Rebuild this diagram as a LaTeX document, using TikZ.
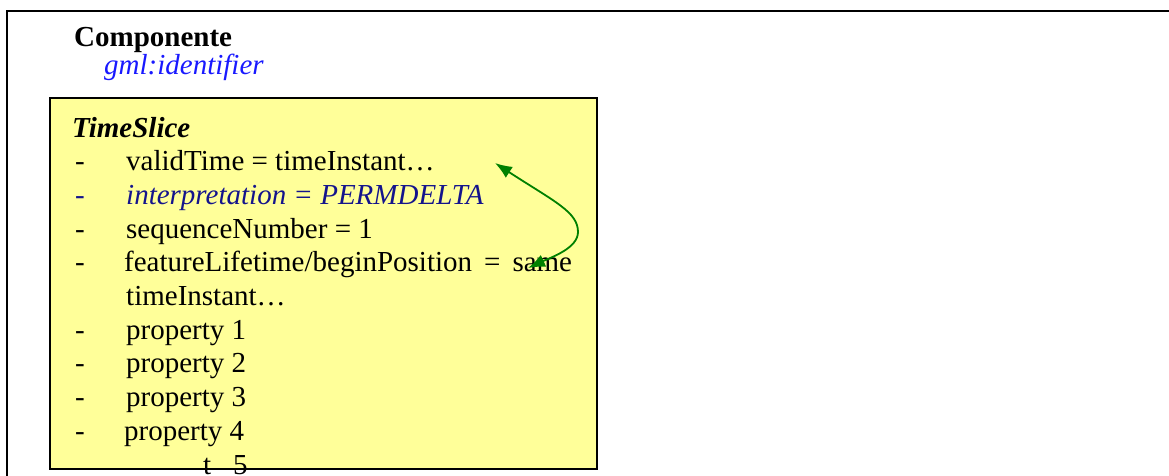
\documentclass[tikz,border=0pt]{standalone}
\usepackage{fontspec}
\setmainfont{Liberation Serif}
\usetikzlibrary{arrows.meta}
\definecolor{boxyellow}{RGB}{255,255,153}
\definecolor{idblue}{RGB}{25,25,255}
\definecolor{navyblue}{RGB}{20,20,140}
\definecolor{arrowgreen}{RGB}{0,128,0}
\tikzset{greentip/.tip={Latex[length=17pt,width=13pt]}}
\begin{document}
\begin{tikzpicture}[x=1pt,y=-1pt,
  txt/.style={anchor=base west, inner sep=0pt, font=\fontsize{29}{34}\selectfont},
  bullet/.style={txt},
  frameline/.style={line width=2.2pt, black}]
\useasboundingbox (0,0) rectangle (1169,476);
% outer frame (only top and left visible)
\draw[frameline] (1180,11) -- (7,11) -- (7,490);
% yellow box fill
\node[fill=boxyellow, minimum width=547pt, minimum height=371pt, anchor=north west, inner sep=0pt] (ts) at (50,98) {};
% header texts
\node[txt, font=\fontsize{29}{34}\selectfont\bfseries] (comp) at (74,46.5) {Componente};
\node[txt, font=\fontsize{29}{34}\selectfont\itshape, text=idblue] (gml) at (104,75) {gml:identifier};
\node[txt, font=\fontsize{29}{34}\selectfont\bfseries\itshape] (slice) at (72,137) {TimeSlice};
% list
\node[bullet] (d1) at (75,170.7) {-};
\node[txt] (l1) at (126,170.7) {validTime = timeInstant…};
\node[bullet, text=navyblue] (d2) at (75,204.4) {-};
\node[txt, font=\fontsize{29}{34}\selectfont\itshape, text=navyblue] (l2) at (126,204.4) {interpretation = PERMDELTA};
\node[bullet] (d3) at (75,238.1) {-};
\node[txt] (l3) at (126,238.1) {sequenceNumber = 1};
\node[bullet] (d4) at (75,271.8) {-};
\node[txt] (l4) at (124,271.8) {featureLifetime/beginPosition\hspace{12pt}=\hspace{12pt}same};
\node[txt] (l5) at (126,305.5) {timeInstant…};
\node[bullet] (d6) at (75,339.2) {-};
\node[txt] (l6) at (126,339.2) {property 1};
\node[bullet] (d7) at (75,372.9) {-};
\node[txt] (l7) at (126,372.9) {property 2};
\node[bullet] (d8) at (75,406.6) {-};
\node[txt] (l8) at (126,406.6) {property 3};
\node[bullet] (d9) at (75,440.3) {-};
\node[txt] (l9) at (124,440.3) {property 4};
\node[txt] (l10) at (203,474) {t\hspace{22pt}5};
% yellow box border on top
\draw[line width=2pt] (ts.north west) rectangle (ts.south east);
% green double arrow
\coordinate (tipA) at (495,163);
\coordinate (bend) at (578,232);
\coordinate (tipB) at (528,268);
\draw[arrowgreen, line width=1.8pt, greentip-greentip]
  (tipA) .. controls (555,202) and (578,212) .. (bend)
         .. controls (578,248) and (552,257) .. (tipB);
\end{tikzpicture}
\end{document}
